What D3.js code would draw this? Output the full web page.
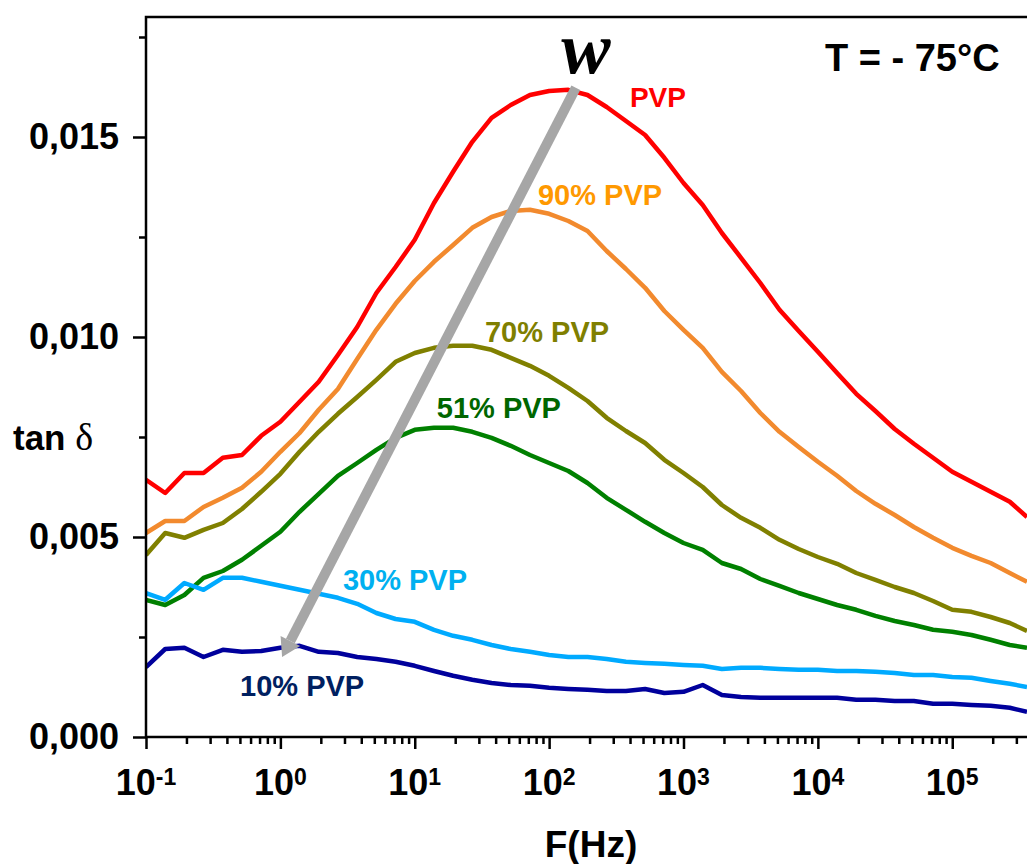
<!DOCTYPE html>
<html>
<head>
<meta charset="utf-8">
<script src="https://cdn.jsdelivr.net/npm/d3@7"></script>
<style>
  html, body { margin: 0; padding: 0; background: #fff; }
  svg { display: block; }
</style>
</head>
<body>
<svg id="chart" width="1027" height="864"></svg>
<script>
// ---------- DATA ----------
const freqs = [0.1,0.139,0.193,0.268,0.373,0.518,0.72,1,1.39,1.93,2.68,3.73,5.18,7.2,10,13.9,19.3,26.8,37.3,51.8,72,100,139,193,268,373,518,720,1000,1390,1930,2680,3730,5180,7200,1e4,1.39e4,1.93e4,2.68e4,3.73e4,5.18e4,7.2e4,1e5,1.39e5,1.93e5,2.68e5,3.6e5];

const pvp100 = [0.00643,0.0061,0.0066,0.0066,0.00698,0.00705,0.00753,0.00788,0.00838,0.00888,0.00955,0.01025,0.0111,0.01175,0.01243,0.01335,0.01413,0.01488,0.01548,0.0158,0.01605,0.01615,0.01618,0.01605,0.01575,0.0154,0.01505,0.01448,0.01385,0.0133,0.0126,0.01198,0.01135,0.01068,0.01015,0.00963,0.0091,0.00858,0.00815,0.0077,0.00733,0.00698,0.00663,0.00638,0.00613,0.00588,0.0055];
const pvp90 = [0.0051,0.0054,0.0054,0.00575,0.00598,0.00623,0.00663,0.00713,0.0076,0.00818,0.0087,0.00945,0.01018,0.01083,0.0114,0.01188,0.0123,0.01273,0.013,0.01315,0.01318,0.01308,0.0129,0.01265,0.01215,0.0117,0.01123,0.01065,0.01018,0.00973,0.00913,0.00865,0.0081,0.00763,0.00725,0.00688,0.00653,0.00615,0.00583,0.00555,0.00525,0.00498,0.00473,0.00453,0.00435,0.0041,0.00388];
const pvp70 = [0.00455,0.0051,0.00498,0.00518,0.00535,0.0057,0.00613,0.00658,0.00713,0.00763,0.00808,0.0085,0.00893,0.00938,0.0096,0.00973,0.00978,0.00978,0.00968,0.00948,0.00928,0.00903,0.00873,0.0084,0.00798,0.00765,0.00735,0.00693,0.0066,0.00625,0.0058,0.00548,0.00523,0.00493,0.0047,0.0045,0.00433,0.0041,0.00393,0.00375,0.0036,0.0034,0.00318,0.00313,0.003,0.00285,0.00265];
const pvp51 = [0.00343,0.0033,0.00355,0.00398,0.00415,0.00443,0.00478,0.00513,0.00563,0.00608,0.00653,0.00685,0.00718,0.00748,0.00768,0.00773,0.00773,0.00763,0.00748,0.00728,0.00705,0.00685,0.00665,0.00635,0.00598,0.00568,0.00538,0.0051,0.00485,0.00468,0.00435,0.0042,0.00395,0.00378,0.0036,0.00345,0.0033,0.00318,0.00303,0.0029,0.0028,0.00268,0.00263,0.00255,0.00243,0.0023,0.00223];
const pvp30 = [0.0036,0.00343,0.00385,0.00368,0.00398,0.00398,0.00388,0.00378,0.00368,0.00358,0.00348,0.00333,0.0031,0.00295,0.00288,0.00268,0.00253,0.00243,0.0023,0.0022,0.00213,0.00205,0.002,0.002,0.00195,0.00188,0.00185,0.00183,0.0018,0.00178,0.0017,0.00173,0.00173,0.0017,0.00168,0.00168,0.00165,0.00165,0.00163,0.0016,0.00155,0.00155,0.0015,0.00148,0.0014,0.00133,0.00125];
const pvp10 = [0.00175,0.0022,0.00223,0.002,0.00218,0.00213,0.00215,0.00223,0.00228,0.00213,0.0021,0.002,0.00195,0.00188,0.00178,0.00165,0.00153,0.00143,0.00135,0.0013,0.00128,0.00123,0.0012,0.00118,0.00115,0.00115,0.0012,0.0011,0.00113,0.0013,0.00105,0.001,0.00098,0.00098,0.00098,0.00098,0.00098,0.00093,0.00093,0.0009,0.0009,0.00083,0.00083,0.0008,0.00078,0.00073,0.00063];

const seriesNames = ["PVP","90% PVP","70% PVP","51% PVP","30% PVP","10% PVP"];
const seriesValues = [pvp100, pvp90, pvp70, pvp51, pvp30, pvp10];
const lineColors  = ["#ff0000","#f28a2e","#808000","#008000","#00aaff","#00009c"];
const labelColors = ["#ff0000","#ff9900","#7f7f00","#006600","#00b0f0","#002060"];
// label anchor (left edge, baseline) in data space: [frequency, tan delta]
const labelAnchors = [[399,0.01575],[82.6,0.0133],[33.3,0.009875],[14.6,0.007975],[2.92,0.003675],[0.501,0.001025]];

const yMajorTicks = [0, 0.005, 0.010, 0.015];
const yMinorTicks = [0.0025, 0.0075, 0.0125, 0.0175];
const xDecades = [-1, 0, 1, 2, 3, 4, 5];
const arrowFrom = [158, 0.01623];
const arrowTo = [1.03, 0.0020];

// ---------- LAYOUT ----------
const SANS = "'Liberation Sans', Arial, sans-serif";
const SERIF = "'Liberation Serif', 'Times New Roman', serif";
const svg = d3.select("#chart");
const L = 146, R = 1027, T = 17, B = 737;
const x = d3.scaleLog().domain([0.1, 3.6e5]).range([L, R]);
const y = d3.scaleLinear().domain([0, 0.018]).range([B, T]);

svg.append("defs").append("clipPath").attr("id","clip")
  .append("rect").attr("x", L).attr("y", T).attr("width", R - L).attr("height", B - T);

// lines
const line = d3.line().x((d,i) => x(freqs[i])).y(d => y(d));
const g = svg.append("g").attr("clip-path","url(#clip)");
seriesValues.forEach((vals, si) => {
  g.append("path").datum(vals)
    .attr("d", line)
    .attr("fill","none")
    .attr("stroke", lineColors[si])
    .attr("stroke-width", 4.5)
    .attr("stroke-linejoin","round");
});

// axes
const yMajor = d3.axisLeft(y).tickValues(yMajorTicks).tickSize(13).tickPadding(14)
  .tickFormat(d => d3.format(".3f")(d).replace(".", ","));
const yMinor = d3.axisLeft(y).tickValues(yMinorTicks).tickSize(7).tickFormat("");
const xMinorVals = [];
xDecades.forEach(e => { for (let m = 2; m <= 9; m++) { const v = m * Math.pow(10, e); if (v <= 3.6e5) xMinorVals.push(v); } });
const xMajor = d3.axisBottom(x).tickValues(xDecades.map(e => Math.pow(10, e))).tickSize(12).tickFormat("");
const xMinor = d3.axisBottom(x).tickValues(xMinorVals).tickSize(7).tickFormat("");

function styleAxis(sel) {
  sel.select(".domain").remove();
  sel.selectAll("line").attr("stroke","#000").attr("stroke-width",2.5);
  sel.selectAll("text").style("font-size","36px").style("font-weight","bold")
    .style("font-family", SANS).attr("fill","#000");
}
svg.append("g").attr("transform",`translate(${L},0)`).call(yMajor).call(styleAxis);
svg.append("g").attr("transform",`translate(${L},0)`).call(yMinor).call(styleAxis);
svg.append("g").attr("transform",`translate(0,${B})`).call(xMajor).call(styleAxis);
svg.append("g").attr("transform",`translate(0,${B})`).call(xMinor).call(styleAxis);

// frame lines
svg.append("path").attr("d",`M${R},${T}H${L}V${B}H${R}`)
  .attr("fill","none").attr("stroke","#000").attr("stroke-width",2.5);

function txt(sel, size, family, weight, style) {
  return sel.style("font-size", size + "px").style("font-family", family || SANS)
    .style("font-weight", weight || "bold").style("font-style", style || "normal");
}

// x tick labels with superscripts
xDecades.forEach(e => {
  const t = txt(svg.append("text"), 36).attr("x", x(Math.pow(10, e))).attr("y", 795)
    .attr("text-anchor","middle").attr("fill","#000");
  t.append("tspan").text("10");
  txt(t.append("tspan"), 23).attr("dy",-10).text(String(e));
});

// axis titles
txt(svg.append("text"), 37).attr("x",591).attr("y",857).attr("text-anchor","middle")
  .attr("fill","#000").text("F(Hz)");
const yt = txt(svg.append("text"), 35).attr("x",13).attr("y",450).attr("fill","#000");
yt.append("tspan").text("tan ");
txt(yt.append("tspan"), 38, SERIF, "normal").text("δ");

// temperature
txt(svg.append("text"), 38).attr("x",825).attr("y",71).attr("fill","#000").text("T = - 75°C");

// series labels
seriesNames.forEach((name, si) => {
  txt(svg.append("text"), si === 0 ? 28 : 29)
    .attr("x", x(labelAnchors[si][0])).attr("y", y(labelAnchors[si][1]))
    .attr("fill", labelColors[si]).text(name);
});

// arrow
const x1 = x(arrowFrom[0]), y1 = y(arrowFrom[1]), x2 = x(arrowTo[0]), y2 = y(arrowTo[1]);
const ang = Math.atan2(y2 - y1, x2 - x1);
const headLen = 18, headHalf = 11;
const bx = x2 - headLen * Math.cos(ang), by = y2 - headLen * Math.sin(ang);
svg.append("line").attr("x1",x1).attr("y1",y1).attr("x2",bx).attr("y2",by)
  .attr("stroke","#a6a6a6").attr("stroke-width",10);
const px = -Math.sin(ang), py = Math.cos(ang);
svg.append("polygon")
  .attr("points", [[x2,y2],[bx + px*headHalf, by + py*headHalf],[bx - px*headHalf, by - py*headHalf]].map(p => p.join(",")).join(" "))
  .attr("fill","#a6a6a6");

// w label
txt(svg.append("text"), 74, SERIF, "bold", "italic").attr("x",586).attr("y",73)
  .attr("text-anchor","middle").attr("fill","#000").text("w");
</script>
</body>
</html>
